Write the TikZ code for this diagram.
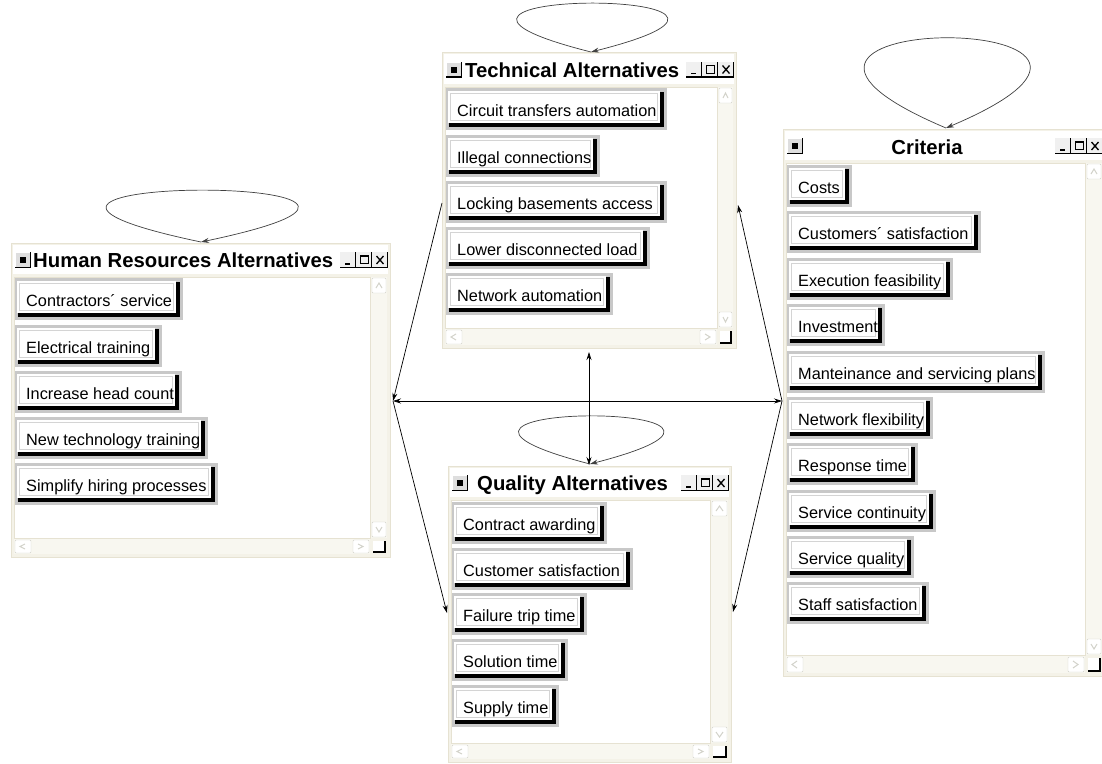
\documentclass[tikz,border=0pt]{standalone}
\usepackage{fontspec}
\setmainfont{Liberation Sans}
\usetikzlibrary{arrows.meta}
\definecolor{cream}{RGB}{244,242,232}
\definecolor{frameline}{RGB}{230,226,210}
\definecolor{scrollc}{RGB}{248,247,240}
\definecolor{btngrey}{RGB}{200,200,200}
\definecolor{bevelc}{RGB}{212,212,212}
\definecolor{arrowc}{RGB}{210,210,202}
\tikzset{
  x=1pt, y=-1pt,
  winbox/.style={fill=cream, draw=frameline, line width=0.8pt, inner sep=0pt, outer sep=0pt},
  btntext/.style={anchor=base west, inner sep=0pt, font=\fontsize{16.3}{18}\selectfont},
  wintitle/.style={anchor=base west, inner sep=0pt, font=\fontsize{20.3}{22}\selectfont\bfseries},
  conn/.style={draw=black, line width=0.7pt, -{Stealth[length=8pt,width=5pt]}},
  connboth/.style={draw=black, line width=0.7pt, {Stealth[length=8pt,width=5pt]}-{Stealth[length=8pt,width=5pt]}},
  selfloop/.style={draw=black!75, line width=0.7pt, -{Stealth[length=8pt,width=5pt]}},
}
% #1 name #2 x1 #3 y1 #4 x2 #5 y2 #6 content top #7 content right #8 content bottom
\newcommand{\appwin}[8]{%
  \node[winbox, anchor=north west, minimum width={#4-#2}, minimum height={#5-#3}] (#1) at (#2,#3) {};
  \pgfmathsetmacro{\tcy}{(#3+#6)/2}
  \fill[white] (#2+2,#3+2) rectangle (#4-2,#6-3);
  \fill[white] (#2+3,#6) rectangle (#7,#8);
  \draw[frameline, line width=0.6pt] (#2+3,#6) rectangle (#7,#8);
  \fill[scrollc] (#7+1,#6) rectangle (#4-3,#8);
  \fill[scrollc] (#2+3,#8+1) rectangle (#7,#5-3);
  % scroll arrows
  \draw[arrowc, fill=white, rounded corners=1pt] (#7+2,#6+1) rectangle (#4-4,#6+16);
  \draw[arrowc, line width=1pt] (#7+6,#6+11) -- ({(#7+#4-2)/2},#6+6) -- (#4-8,#6+11);
  \draw[arrowc, fill=white, rounded corners=1pt] (#7+2,#8-16) rectangle (#4-4,#8-1);
  \draw[arrowc, line width=1pt] (#7+6,#8-11) -- ({(#7+#4-2)/2},#8-6) -- (#4-8,#8-11);
  \draw[arrowc, fill=white, rounded corners=1pt] (#2+4,#8+2) rectangle (#2+20,#5-4);
  \draw[arrowc, line width=1pt] (#2+14,#8+6) -- (#2+9,{(#8+#5-2)/2}) -- (#2+14,#5-8);
  \draw[arrowc, fill=white, rounded corners=1pt] (#7-17,#8+2) rectangle (#7-1,#5-4);
  \draw[arrowc, line width=1pt] (#7-12,#8+6) -- (#7-7,{(#8+#5-2)/2}) -- (#7-12,#5-8);
  % resize corner
  \fill[white] (#7+3,#8+3) rectangle (#4-5,#5-5);
  \draw[black, line width=1.2pt] (#7+3,#5-5) -- (#4-5,#5-5) -- (#4-5,#8+3);
  % title icon
  \fill[btngrey!60] (#2+4,\tcy-8) rectangle (#2+20,\tcy+8);
  \draw[white, line width=1pt] (#2+4.5,\tcy+8) -- (#2+4.5,\tcy-7.5) -- (#2+20,\tcy-7.5);
  \draw[black, line width=1.2pt] (#2+4,\tcy+7.4) -- (#2+19.4,\tcy+7.4) -- (#2+19.4,\tcy-8);
  \fill[black] (#2+9,\tcy-3) rectangle (#2+15,\tcy+3);
  % window buttons
  \foreach \xl in {#4-50,#4-34,#4-18}{
    \fill[black!6] (\xl,\tcy-8) rectangle (\xl+16,\tcy+8);
    \draw[black, line width=1.2pt] (\xl,\tcy+7.4) -- (\xl+15.4,\tcy+7.4) -- (\xl+15.4,\tcy-8);
  }
  \draw[black, line width=1.8pt] (#4-45,\tcy+4) -- (#4-40,\tcy+4);
  \draw[black, line width=1pt] (#4-29.5,\tcy-4.5) rectangle (#4-21.5,\tcy+3.5);
  \draw[black, line width=1pt] (#4-29.5,\tcy-4) -- (#4-21.5,\tcy-4);
  \draw[black, line width=1.3pt] (#4-13.5,\tcy-4) -- (#4-6.5,\tcy+4) (#4-13.5,\tcy+4) -- (#4-6.5,\tcy-4);
}
% #1 name #2 x #3 y #4 width #5 text
\newcommand{\btn}[5]{%
  \fill[btngrey] (#2,#3) rectangle (#2+#4,#3+42);
  \fill[black] (#2+3,#3+4) rectangle (#2+#4-3,#3+39);
  \fill[white] (#2+2,#3+3) rectangle (#2+#4-7,#3+35);
  \draw[bevelc, line width=1.2pt] (#2+4.5,#3+5.5) rectangle (#2+#4-9.5,#3+32.5);
  \node[btntext] (#1) at (#2+11,#3+28) {#5};
}
\begin{document}
\begin{tikzpicture}
\useasboundingbox (0,0) rectangle (1102,763);
\clip (0,0) rectangle (1102,763);
\fill[white] (0,0) rectangle (1102,763);

% ---------- windows ----------
\appwin{hr}{11}{243}{390}{557}{277}{370}{538}
\node[wintitle] (hrtitle) at (33,267) {Human Resources Alternatives};
\btn{hr1}{15}{278}{168}{Contractors´ service}
\btn{hr2}{15}{325}{147}{Electrical training}
\btn{hr3}{15}{371}{167}{Increase head count}
\btn{hr4}{15}{417}{193}{New technology training}
\btn{hr5}{15}{463}{203}{Simplify hiring processes}

\appwin{tech}{442}{52}{736}{348}{87}{717}{328}
\node[wintitle] (techtitle) at (465,77) {Technical Alternatives};
\btn{t1}{446}{88}{221}{Circuit transfers automation}
\btn{t2}{446}{135}{154}{Illegal connections}
\btn{t3}{446}{181}{221}{Locking basements access}
\btn{t4}{446}{227}{204}{Lower disconnected load}
\btn{t5}{446}{273}{167}{Network automation}

\appwin{qual}{448}{466}{731}{762}{500}{710}{743}
\node[wintitle] (qualtitle) at (477,490) {Quality Alternatives};
\btn{q1}{452}{502}{155}{Contract awarding}
\btn{q2}{452}{548}{181}{Customer satisfaction}
\btn{q3}{452}{593}{135}{Failure trip time}
\btn{q4}{452}{639}{116}{Solution time}
\btn{q5}{452}{685}{107}{Supply time}

\appwin{crit}{783}{129}{1105}{676}{163}{1085}{655}
\node[wintitle, anchor=base] (crittitle) at (927,154) {Criteria};
\btn{c1}{787}{165}{65}{Costs}
\btn{c2}{787}{211}{194}{Customers´ satisfaction}
\btn{c3}{787}{258}{166}{Execution feasibility}
\btn{c4}{787}{304}{98}{Investment}
\btn{c5}{787}{351}{258}{Manteinance and servicing plans}
\btn{c6}{787}{397}{146}{Network flexibility}
\btn{c7}{787}{443}{131}{Response time}
\btn{c8}{787}{490}{149}{Service continuity}
\btn{c9}{787}{536}{127}{Service quality}
\btn{c10}{787}{582}{142}{Staff satisfaction}

% ---------- connector ports ----------
\coordinate (hrP) at (393,401);
\coordinate (crP) at (782,401);
\coordinate (techL) at (442,203);
\coordinate (techR) at (738,205);
\coordinate (techB) at (589,352);
\coordinate (qT) at (589,465);
\coordinate (qL) at (447,613);
\coordinate (qR) at (733,612);
\coordinate (hrTip) at (201,242);
\coordinate (techTip) at (591,52);
\coordinate (qTip) at (590,464);
\coordinate (crTip) at (946,128);

% ---------- self loops ----------
\draw[selfloop] (hrTip) .. controls +(-329,-69) and +(329,-69) .. (hrTip);
\draw[selfloop] (techTip) .. controls +(-258,-65) and +(258,-65) .. (techTip);
\draw[selfloop] (qTip) .. controls +(-248,-64) and +(248,-64) .. (qTip);
\draw[selfloop] (crTip) .. controls +(-284,-120) and +(284,-120) .. (crTip);

% ---------- connectors ----------
\draw[conn] (techL) -- (hrP);
\draw[connboth] (hrP) -- (crP);
\draw[conn] (hrP) -- (qL);
\draw[conn] (crP) -- (techR);
\draw[conn] (crP) -- (qR);
\draw[connboth] (techB) -- (qT);
\end{tikzpicture}
\end{document}
